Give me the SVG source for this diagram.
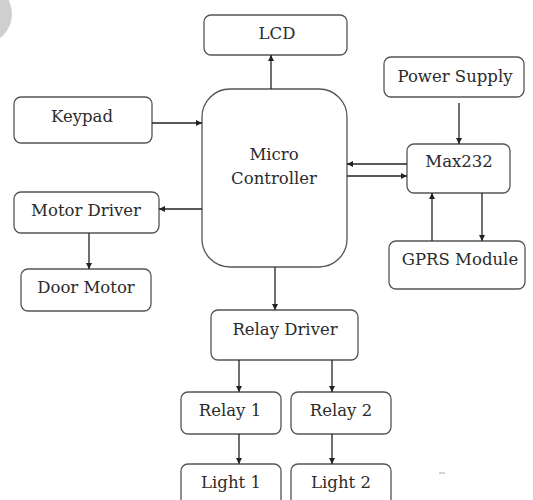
<svg xmlns="http://www.w3.org/2000/svg" width="533" height="500" viewBox="0 0 533 500">
<defs>
<style>
.box{fill:#fff;stroke:#555;stroke-width:1.3}
.t{font-family:'DejaVu Serif','Liberation Serif',serif;font-size:16.5px;fill:#2b2b2b;text-anchor:middle}
.c{stroke:#222;stroke-width:1.3;fill:none;marker-end:url(#ah)}
</style>
<marker id="ah" viewBox="0 0 10 10" refX="10" refY="5" markerWidth="6" markerHeight="6" markerUnits="userSpaceOnUse" orient="auto"><path d="M0,0 L10,5 L0,10 z" fill="#222"/></marker>
</defs>
<rect width="533" height="500" fill="#fff"/>
<circle cx="-18" cy="14" r="30" fill="#cfcfcf"/>
<g id="lcd"><rect class="box" x="204" y="15" width="143" height="40" rx="7"/><text class="t" x="277" y="39">LCD</text></g>
<g id="power"><rect class="box" x="384" y="57" width="140" height="40" rx="7"/><text class="t" x="455" y="82">Power Supply</text></g>
<g id="keypad"><rect class="box" x="14" y="97" width="138" height="46" rx="7"/><text class="t" x="82" y="122">Keypad</text></g>
<g id="mc"><rect class="box" x="202" y="89" width="145" height="178" rx="28"/><text class="t" x="274" y="160">Micro</text><text class="t" x="274" y="184">Controller</text></g>
<g id="max232"><rect class="box" x="407" y="144" width="103" height="49" rx="7"/><text class="t" x="459" y="167">Max232</text></g>
<g id="motordriver"><rect class="box" x="14" y="192" width="145" height="41" rx="7"/><text class="t" x="86" y="216">Motor Driver</text></g>
<g id="doormotor"><rect class="box" x="21" y="269" width="130" height="42" rx="7"/><text class="t" x="86" y="293">Door Motor</text></g>
<g id="gprs"><rect class="box" x="389" y="241" width="136" height="48" rx="7"/><text class="t" x="460" y="265">GPRS Module</text></g>
<g id="relaydriver"><rect class="box" x="211" y="310" width="147" height="50" rx="7"/><text class="t" x="285" y="335">Relay Driver</text></g>
<g id="relay1"><rect class="box" x="181" y="392" width="100" height="42" rx="7"/><text class="t" x="230" y="416">Relay 1</text></g>
<g id="relay2"><rect class="box" x="291" y="392" width="100" height="42" rx="7"/><text class="t" x="341" y="416">Relay 2</text></g>
<g id="light1"><rect class="box" x="181" y="464" width="100" height="50" rx="7"/><text class="t" x="231" y="488">Light 1</text></g>
<g id="light2"><rect class="box" x="291" y="464" width="100" height="50" rx="7"/><text class="t" x="341" y="488">Light 2</text></g>
<g id="connectors">
<line class="c" x1="271" y1="89" x2="271" y2="55"/>
<line class="c" x1="152" y1="123" x2="202" y2="123"/>
<line class="c" x1="459" y1="103" x2="459" y2="144"/>
<line class="c" x1="407" y1="164" x2="347" y2="164"/>
<line class="c" x1="347" y1="176" x2="407" y2="176"/>
<line class="c" x1="202" y1="209" x2="159" y2="209"/>
<line class="c" x1="89" y1="233" x2="89" y2="269"/>
<line class="c" x1="432" y1="241" x2="432" y2="193"/>
<line class="c" x1="482" y1="193" x2="482" y2="241"/>
<line class="c" x1="275" y1="267" x2="275" y2="310"/>
<line class="c" x1="239" y1="360" x2="239" y2="392"/>
<line class="c" x1="332" y1="360" x2="332" y2="392"/>
<line class="c" x1="239" y1="434" x2="239" y2="464"/>
<line class="c" x1="332" y1="434" x2="332" y2="464"/>
</g>
<line x1="439" y1="473" x2="445" y2="473" stroke="#aaa" stroke-width="1"/>
</svg>
